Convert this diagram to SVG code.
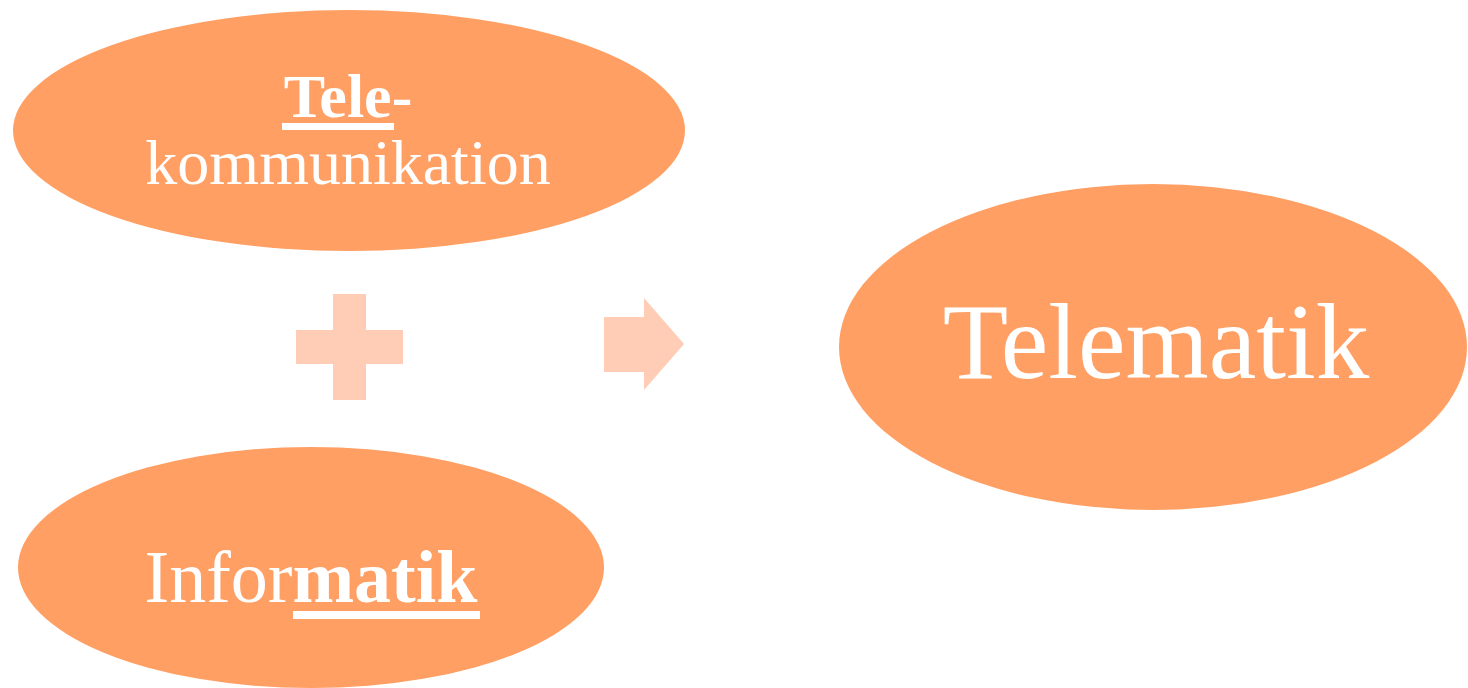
<svg xmlns="http://www.w3.org/2000/svg" width="1468" height="688" viewBox="0 0 1468 688">
  <style>
    .node { fill: #FF9F63; }
    .sym { fill: #FFCCB5; }
    .lbl { fill: #FFFFFF; font-family: "Liberation Serif", "Times New Roman", serif; text-anchor: middle; }
    .b { font-weight: bold; }
    .ul { fill: #FFFFFF; }
  </style>
  <rect width="1468" height="688" fill="#FFFFFF"/>

  <g id="telekommunikation">
    <ellipse class="node" cx="349" cy="130.5" rx="336" ry="120.5"/>
    <text class="lbl b" x="348" y="117" font-size="62">Tele-</text>
    <rect class="ul" x="282" y="123" width="112" height="7"/>
    <text class="lbl" x="348" y="184" font-size="64">kommunikation</text>
  </g>

  <g id="informatik">
    <ellipse class="node" cx="311" cy="567.5" rx="293" ry="120.5"/>
    <text class="lbl" x="311" y="602" font-size="74"><tspan>Infor</tspan><tspan class="b">matik</tspan></text>
    <rect class="ul" x="293" y="611" width="187" height="8"/>
  </g>

  <g id="telematik">
    <ellipse class="node" cx="1153" cy="347" rx="314" ry="163"/>
    <text class="lbl" x="1156" y="378" font-size="107">Telematik</text>
  </g>

  <g id="connectors">
    <!-- plus sign between the two inputs -->
    <path class="sym" d="M333,294 H366 V330 H403 V364 H366 V400 H333 V364 H296 V330 H333 Z"/>
    <!-- arrow toward the result -->
    <path class="sym" d="M604,317 H644 V298 L684,344 L644,390 V372 H604 Z"/>
  </g>
</svg>
